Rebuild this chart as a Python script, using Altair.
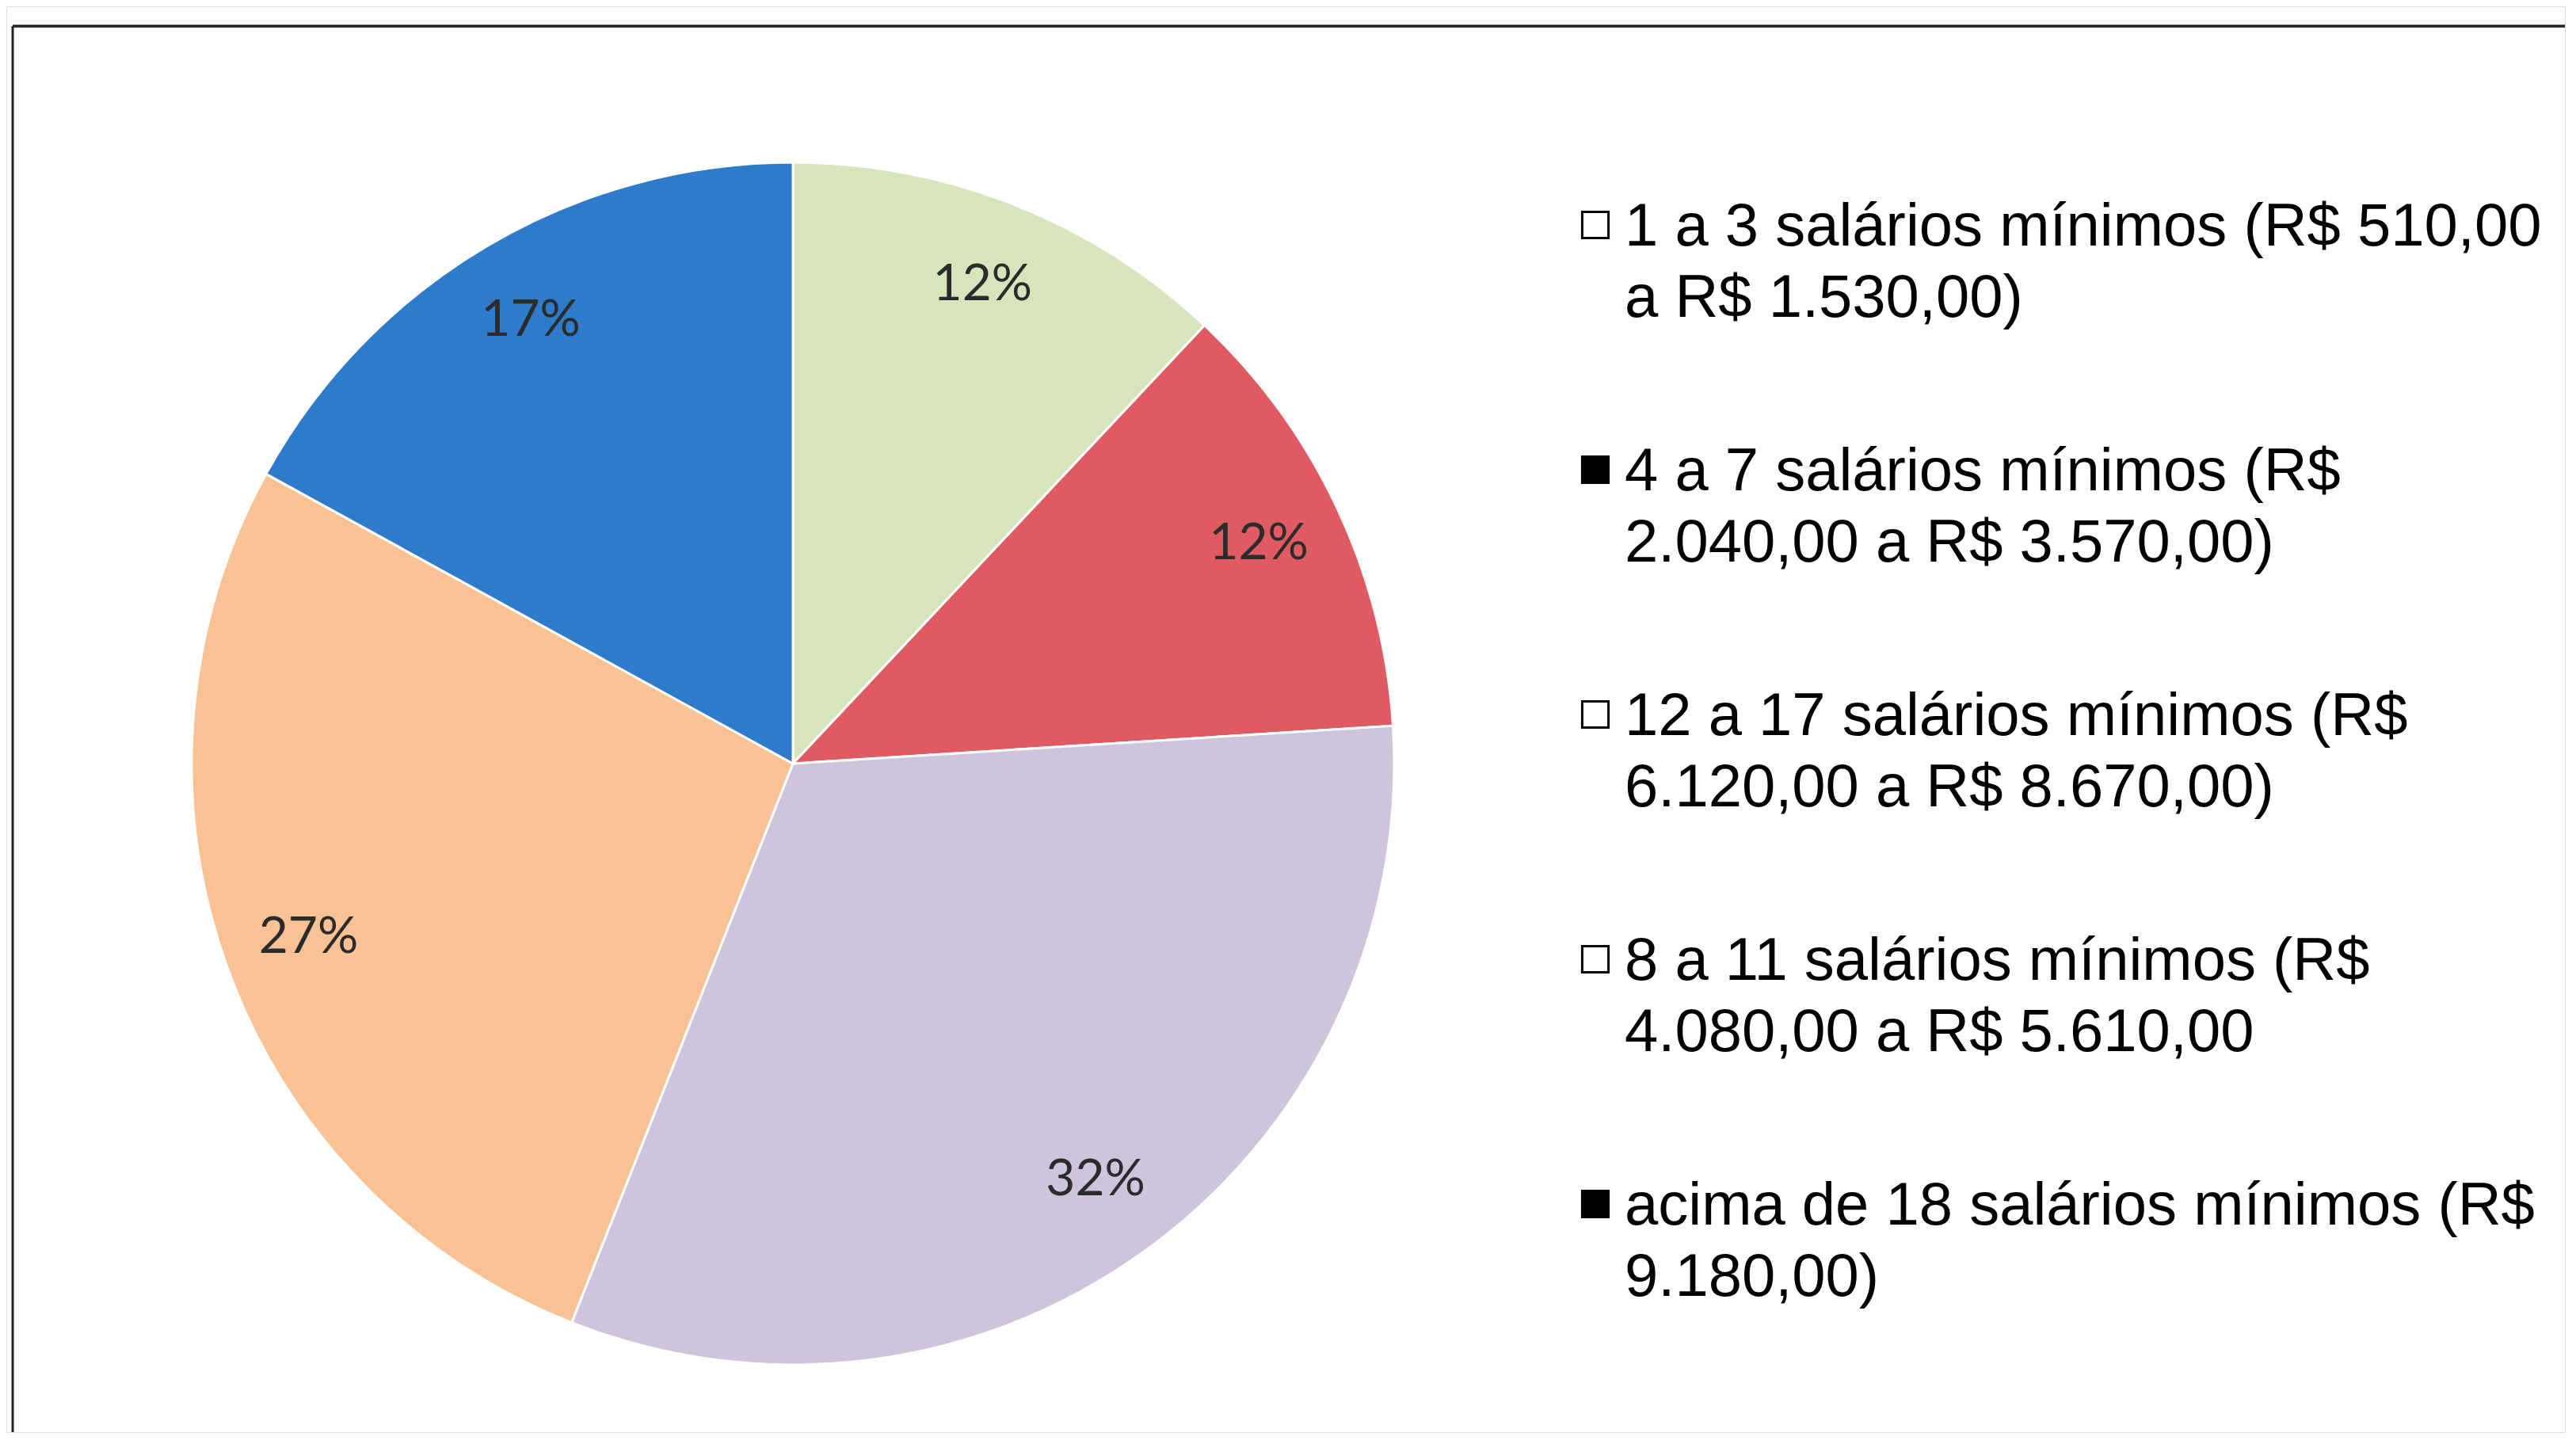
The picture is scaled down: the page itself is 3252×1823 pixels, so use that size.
import altair as alt
import pandas as pd

# ---- data ----
categories = [
    "1 a 3 salários mínimos",
    "4 a 7 salários mínimos",
    "12 a 17 salários mínimos",
    "8 a 11 salários mínimos",
    "acima de 18 salários mínimos",
]
values = [12, 12, 32, 27, 17]
legend_line1 = [
    "1 a 3 salários mínimos (R$ 510,00",
    "4 a 7 salários mínimos (R$",
    "12 a 17 salários mínimos (R$",
    "8 a 11 salários mínimos (R$",
    "acima de 18 salários mínimos (R$",
]
legend_line2 = [
    "a R$ 1.530,00)",
    "2.040,00 a R$ 3.570,00)",
    "6.120,00 a R$ 8.670,00)",
    "4.080,00 a R$ 5.610,00",
    "9.180,00)",
]

# ---- styles ----
slice_colors = ["#D8E4BC", "#E05A62", "#CEC5DC", "#F9C295", "#2F7BCB"]
marker_fill = ["white", "black", "white", "white", "black"]

df = pd.DataFrame({
    "cat": categories,
    "value": values,
    "idx": list(range(len(categories))),
    "label": [f"{v}%" for v in values],
    "legend": [a + "\n" + b for a, b in zip(legend_line1, legend_line2)],
    "mfill": marker_fill,
})

CX, CY, R = 993, 956, 759
LABEL_R = 650

base = alt.Chart(df)

arcs = base.mark_arc(outerRadius=R, stroke="white", strokeWidth=3).encode(
    theta=alt.Theta("value:Q", stack=True),
    color=alt.Color("cat:N", scale=alt.Scale(domain=categories, range=slice_colors), legend=None),
    order=alt.Order("idx:Q"),
    x=alt.value(CX),
    y=alt.value(CY),
)

labels = base.mark_text(
    radius=LABEL_R, font="Lato", fontSize=64, color="#2b2b2b"
).encode(
    theta=alt.Theta("value:Q", stack=True),
    order=alt.Order("idx:Q"),
    text="label:N",
    x=alt.value(CX),
    y=alt.value(CY),
)

ypos = alt.Y(
    "cat:N",
    sort=categories,
    axis=None,
    scale=alt.Scale(type="point", domain=categories, range=[276, 1512], padding=0),
)

markers = base.mark_square(size=1100, stroke="black", strokeWidth=3, opacity=1).encode(
    x=alt.value(2006),
    y=ypos,
    fill=alt.Fill("mfill:N", scale=None),
)

legend_text = base.mark_text(
    align="left", baseline="alphabetic", dy=26, font="Liberation Sans",
    fontSize=76, lineHeight=90, lineBreak="\n", color="black",
).encode(
    x=alt.value(2043),
    y=ypos,
    text="legend:N",
)

frame_df = pd.DataFrame({"k": [0]})
top_rule = alt.Chart(frame_df).mark_rule(color="#222222", strokeWidth=3.5).encode(
    x=alt.value(8), x2=alt.value(3230), y=alt.value(25)
)
left_rule = alt.Chart(frame_df).mark_rule(color="#222222", strokeWidth=3).encode(
    x=alt.value(8), y=alt.value(25), y2=alt.value(1800)
)

chart = alt.layer(arcs, labels, markers, legend_text, top_rule, left_rule).properties(
    width=3230, height=1800, padding=0
).configure_view(stroke=None).configure(background="white")

chart.save("out.html", embed_options={"renderer": "svg", "actions": False})
